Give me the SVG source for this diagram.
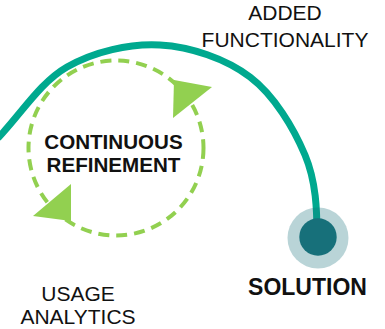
<svg xmlns="http://www.w3.org/2000/svg" width="385" height="329" viewBox="0 0 385 329">
<style>
.lbl{font-family:"Liberation Sans",Arial,sans-serif;font-size:21px;fill:#111;text-anchor:middle}
.bold{font-weight:bold}
.arc{fill:none;stroke:#00A98F;stroke-width:7}
.loop{fill:none;stroke:#92D050;stroke-width:4;stroke-dasharray:11 7}
.head{fill:#92D050}
</style>
<rect width="385" height="329" fill="#fff"/>
<g id="connectors">
<path class="arc" d="M -2 138 C 21 114, 40 82.5, 67 67 C 94 51.5, 129.5 43.3, 160 45 C 190.5 46.7, 225.8 58.7, 250 77 C 274.2 95.3, 293.8 128.3, 305 155 C 316.2 181.7, 317 210, 317 237"/>
<circle class="loop" cx="116" cy="148" r="87.5"/>
<polygon class="head" points="174,80 212,87 173,118"/>
<polygon class="head" points="71,184 33,216 71,221"/>
</g>
<g id="solution">
<circle cx="318" cy="238" r="30.5" fill="#17707A" fill-opacity="0.3"/>
<circle cx="318" cy="237" r="18.7" fill="#17707A"/>
<text class="lbl bold" x="307.5" y="295" style="font-size:23px">SOLUTION</text>
</g>
<g id="refinement">
<text class="lbl bold" x="113.5" y="149" style="font-size:20.6px">CONTINUOUS</text>
<text class="lbl bold" x="113.5" y="172" style="font-size:20.6px">REFINEMENT</text>
</g>
<g id="added">
<text class="lbl" x="285" y="20">ADDED</text>
<text class="lbl" x="285" y="46.5">FUNCTIONALITY</text>
</g>
<g id="usage">
<text class="lbl" x="78" y="301">USAGE</text>
<text class="lbl" x="78" y="324">ANALYTICS</text>
</g>
</svg>
